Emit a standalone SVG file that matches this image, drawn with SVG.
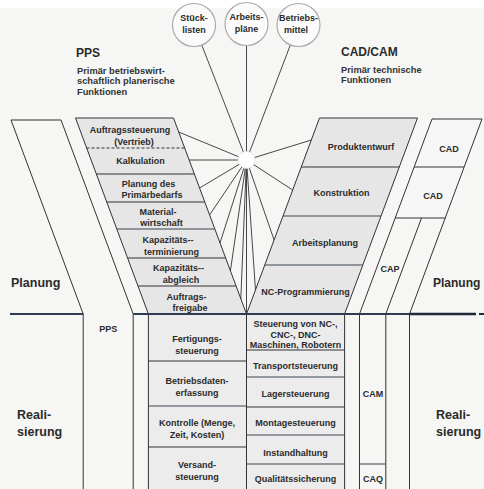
<svg xmlns="http://www.w3.org/2000/svg" width="484" height="489" viewBox="0 0 484 489">
<defs>
<style>
.t{font-family:"Liberation Sans",Arial,sans-serif;font-weight:bold;font-size:9px;fill:#2b2b2b;text-anchor:middle}
.h{font-family:"Liberation Sans",Arial,sans-serif;font-weight:bold;font-size:12px;fill:#2b2b2b}
.s{font-family:"Liberation Sans",Arial,sans-serif;font-weight:bold;font-size:9.3px;fill:#333}
.b{font-family:"Liberation Sans",Arial,sans-serif;font-weight:bold;font-size:12.5px;fill:#2b2b2b}
.f{fill:#e6e6e6;stroke:none}
.fl{fill:#ececec;stroke:none}
.fw{fill:#f6f6f6;stroke:none}
.ln{fill:none;stroke:#333;stroke-width:1}
.dv{fill:none;stroke:#3a4450;stroke-width:1}
.sp{fill:none;stroke:#333;stroke-width:0.9}
.c{fill:#fbfbfb;stroke:#aaa;stroke-width:1.2}
</style>
</defs>
<rect x="0" y="0" width="484" height="489" fill="#f6f6f4"/>
<rect x="0" y="0" width="484" height="8" fill="#ffffff"/>

<!-- headings -->
<g id="pps-heading">
<text class="h" x="76" y="57">PPS</text>
<text class="s" x="77" y="73.5">Primär betriebswirt-</text>
<text class="s" x="77" y="84">schaftlich planerische</text>
<text class="s" x="77" y="94.5">Funktionen</text>
</g>
<g id="cadcam-heading">
<text class="h" x="341" y="56">CAD/CAM</text>
<text class="s" x="341" y="72.5">Primär technische</text>
<text class="s" x="341" y="83">Funktionen</text>
</g>

<!-- left funnel (PPS planning) -->
<g id="auftragssteuerung"><polygon class="f" points="75.5,118 173.5,118 184.5,148 86.5,148"/>
<text class="t" x="130" y="133">Auftragssteuerung</text><text class="t" x="134" y="144.5">(Vertrieb)</text></g>
<g id="kalkulation"><polygon class="f" points="86.5,148 184.5,148 194.3,174 96.3,174"/>
<text class="t" x="140.5" y="164">Kalkulation</text></g>
<g id="primaerbedarf"><polygon class="f" points="96.3,174 194.3,174 204.7,202 106.7,202"/>
<text class="t" x="148.5" y="187">Planung des</text><text class="t" x="152" y="198">Primärbedarfs</text></g>
<g id="materialwirtschaft"><polygon class="f" points="106.7,202 204.7,202 214.8,229 116.8,229"/>
<text class="t" x="158" y="215">Material-</text><text class="t" x="161.5" y="226">wirtschaft</text></g>
<g id="kapazitaetsterminierung"><polygon class="f" points="116.8,229 214.8,229 225.6,258 127.6,258"/>
<text class="t" x="168" y="243">Kapazitäts--</text><text class="t" x="171.5" y="255">terminierung</text></g>
<g id="kapazitaetsabgleich"><polygon class="f" points="127.6,258 225.6,258 236,286 138,286"/>
<text class="t" x="178.5" y="271">Kapazitäts--</text><text class="t" x="181" y="283">abgleich</text></g>
<g id="auftragsfreigabe"><polygon class="f" points="138,286 236,286 246.5,314 148.4,314"/>
<text class="t" x="186.5" y="300">Auftrags-</text><text class="t" x="190" y="311">freigabe</text></g>

<!-- right funnel (CAD/CAM planning) -->
<g id="produktentwurf"><polygon class="f" points="319.5,118 417.5,118 399.3,167 301.3,167"/>
<text class="t" x="361" y="150">Produktentwurf</text></g>
<g id="konstruktion"><polygon class="f" points="301.3,167 399.3,167 381,216 283,216"/>
<text class="t" x="341.5" y="196">Konstruktion</text></g>
<g id="arbeitsplanung"><polygon class="f" points="283,216 381,216 362.8,265 264.8,265"/>
<text class="t" x="325" y="246">Arbeitsplanung</text></g>
<g id="nc-programmierung"><polygon class="f" points="264.8,265 362.8,265 344.6,314 246.6,314"/>
<text class="t" x="305.5" y="295">NC-Programmierung</text></g>

<!-- CAD strip -->
<g id="cad1"><polygon class="fw" points="432,119 482,119 464.1,167 414.1,167"/>
<text class="t" x="449" y="151.5">CAD</text></g>
<g id="cad2"><polygon class="fw" points="414.1,167 464.1,167 445.2,218 395.2,218"/>
<text class="t" x="433" y="198.5">CAD</text></g>
<g id="cap"><text class="t" x="390" y="271.5">CAP</text></g>

<!-- realisation boxes -->
<g id="fertigungssteuerung"><rect class="fl" x="148.4" y="314" width="98.1" height="47"/>
<text class="t" x="197" y="342">Fertigungs-</text><text class="t" x="197" y="354">steuerung</text></g>
<g id="betriebsdatenerfassung"><rect class="fl" x="148.4" y="361" width="98.1" height="45"/>
<text class="t" x="197" y="384">Betriebsdaten-</text><text class="t" x="197" y="396">erfassung</text></g>
<g id="kontrolle"><rect class="fl" x="148.4" y="406" width="98.1" height="41"/>
<text class="t" x="197" y="426">Kontrolle (Menge,</text><text class="t" x="197" y="438">Zeit, Kosten)</text></g>
<g id="versandsteuerung"><rect class="fl" x="148.4" y="447" width="98.1" height="42"/>
<text class="t" x="197" y="468">Versand-</text><text class="t" x="197" y="480">steuerung</text></g>

<g id="nc-steuerung"><rect class="fl" x="246.5" y="314" width="98.1" height="36"/>
<text class="t" x="295.5" y="327">Steuerung von NC-,</text><text class="t" x="295.5" y="338">CNC-, DNC-</text><text class="t" x="295.5" y="348">Maschinen, Robotern</text></g>
<g id="transportsteuerung"><rect class="fl" x="246.5" y="350" width="98.1" height="27"/>
<text class="t" x="295.5" y="369">Transportsteuerung</text></g>
<g id="lagersteuerung"><rect class="fl" x="246.5" y="377" width="98.1" height="30"/>
<text class="t" x="295.5" y="397">Lagersteuerung</text></g>
<g id="montagesteuerung"><rect class="fl" x="246.5" y="407" width="98.1" height="28"/>
<text class="t" x="295.5" y="426">Montagesteuerung</text></g>
<g id="instandhaltung"><rect class="fl" x="246.5" y="435" width="98.1" height="29"/>
<text class="t" x="295.5" y="456">Instandhaltung</text></g>
<g id="qualitaetssicherung"><rect class="fl" x="246.5" y="464" width="98.1" height="25"/>
<text class="t" x="295.5" y="482">Qualitätssicherung</text></g>

<g id="cam"><text class="t" x="373" y="397">CAM</text></g>
<g id="caq"><text class="t" x="373" y="482">CAQ</text></g>
<g id="pps-lower"><text class="t" x="108.3" y="332">PPS</text></g>

<!-- connectors: spokes from hub -->
<g id="connectors">
<line class="sp" x1="201.6" y1="44.6" x2="246.5" y2="160"/>
<line class="sp" x1="246.5" y1="45" x2="246.5" y2="160"/>
<line class="sp" x1="290.5" y1="44.6" x2="246.5" y2="160"/>
<line class="sp" x1="178.7" y1="132" x2="246.5" y2="160"/>
<line class="sp" x1="189.1" y1="160" x2="246.5" y2="160"/>
<line class="sp" x1="199.5" y1="188" x2="246.5" y2="160"/>
<line class="sp" x1="209.6" y1="215" x2="246.5" y2="160"/>
<line class="sp" x1="220" y1="243" x2="246.5" y2="160"/>
<line class="sp" x1="230.4" y1="271" x2="246.5" y2="160"/>
<line class="sp" x1="240.8" y1="299" x2="246.5" y2="160"/>
<line class="sp" x1="246.5" y1="313" x2="246.5" y2="160"/>
<line class="sp" x1="311.3" y1="140" x2="246.5" y2="160"/>
<line class="sp" x1="292.7" y1="190" x2="246.5" y2="160"/>
<line class="sp" x1="274.1" y1="240" x2="246.5" y2="160"/>
<line class="sp" x1="255.5" y1="290" x2="246.5" y2="160"/>
</g>

<g id="hub"><circle cx="246.5" cy="160" r="8.5" fill="#ffffff" stroke="#ddd" stroke-width="0.8"/></g>

<g id="stuecklisten"><circle class="c" cx="194" cy="25" r="21.5"/>
<text class="t" x="194" y="21">Stück-</text><text class="t" x="194" y="33">listen</text></g>
<g id="arbeitsplaene"><circle class="c" cx="246.5" cy="24" r="21.5"/>
<text class="t" x="246.5" y="20">Arbeits-</text><text class="t" x="246.5" y="32">pläne</text></g>
<g id="betriebsmittel"><circle class="c" cx="298.5" cy="25" r="21.5"/>
<text class="t" x="298.5" y="21">Betriebs-</text><text class="t" x="296" y="33">mittel</text></g>

<!-- frame lines -->
<g id="frames">
<polyline class="ln" points="83.2,489 83.2,314 11,120 61,120 133.2,314 133.2,489"/>
<polyline class="ln" points="148.4,489 148.4,314 75.5,118 173.5,118 246.5,314 246.5,489"/>
<polyline class="ln" points="246.5,314 319.5,118 417.5,118 344.6,314 344.6,489"/>
<polyline class="ln" points="359.5,489 359.5,314 432,119 482,119 409.5,314 409.5,489"/>
<polyline class="ln" points="421.5,218 385.8,314 385.8,489"/>
<line class="ln" x1="414.1" y1="167" x2="464.1" y2="167"/>
<line class="ln" x1="395.2" y1="218" x2="445.2" y2="218"/>
<line class="ln" x1="86.5" y1="148" x2="184.5" y2="148" stroke-dasharray="3,2" stroke="#777"/>
<line class="ln" x1="96.3" y1="174" x2="194.3" y2="174"/>
<line class="ln" x1="106.7" y1="202" x2="204.7" y2="202"/>
<line class="dv" x1="116.8" y1="229" x2="214.8" y2="229"/>
<line class="ln" x1="127.6" y1="258" x2="225.6" y2="258"/>
<line class="ln" x1="138" y1="286" x2="236" y2="286"/>
<line class="ln" x1="301.3" y1="167" x2="399.3" y2="167"/>
<line class="dv" x1="283" y1="216" x2="381" y2="216"/>
<line class="dv" x1="264.8" y1="265" x2="362.8" y2="265"/>
<line class="ln" x1="148.4" y1="361" x2="246.5" y2="361"/>
<line class="dv" x1="148.4" y1="406" x2="246.5" y2="406"/>
<line class="ln" x1="148.4" y1="447" x2="246.5" y2="447"/>
<line class="ln" x1="246.5" y1="350" x2="344.6" y2="350"/>
<line class="dv" x1="246.5" y1="377" x2="344.6" y2="377"/>
<line class="ln" x1="246.5" y1="407" x2="344.6" y2="407"/>
<line class="dv" x1="246.5" y1="435" x2="344.6" y2="435"/>
<line class="dv" x1="246.5" y1="464" x2="344.6" y2="464"/>
<line class="dv" x1="359.5" y1="464" x2="385.8" y2="464"/>
<line x1="10" y1="314" x2="83.2" y2="314" stroke="#2d3e50" stroke-width="2"/>
<line x1="133.2" y1="314" x2="409.5" y2="314" stroke="#2d3e50" stroke-width="1.8"/>
<line x1="409.5" y1="314" x2="476" y2="314" stroke="#1e2a38" stroke-width="2.6"/>
<line x1="479" y1="314" x2="484" y2="314" stroke="#1e2a38" stroke-width="2"/>
</g>

<!-- region labels -->
<g id="labels">
<text class="b" x="11" y="287">Planung</text>
<text class="b" x="17" y="419">Reali-</text>
<text class="b" x="17" y="436">sierung</text>
<text class="b" x="433" y="287" style="font-size:12px">Planung</text>
<text class="b" x="436" y="419">Reali-</text>
<text class="b" x="436" y="436">sierung</text>
</g>
</svg>
